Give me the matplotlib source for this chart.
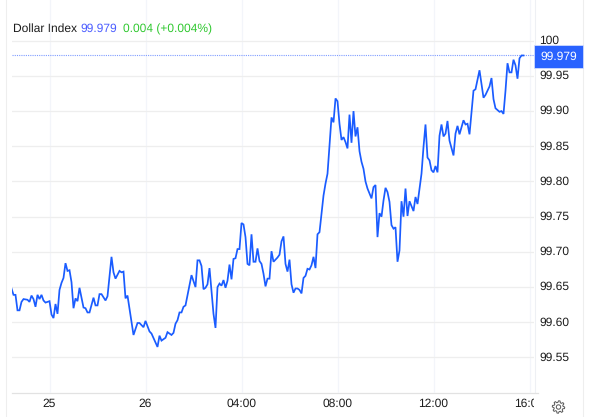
import matplotlib
matplotlib.use('Agg')
import matplotlib.pyplot as plt
import numpy as np
from matplotlib.patches import Polygon, Circle
from matplotlib.transforms import Bbox, ScaledTranslation

plt.rcParams['font.family'] = ['Liberation Sans', 'DejaVu Sans']
plt.rcParams['text.hinting'] = 'no_hinting'

# 5 minute bars, bar 0 sits on the "25" tick
bars = [-19, -18, -17, -16, -15, -14, -13, -11, -10, -9,
        -8, -7, -6, -5, -4, -3, -2, 0, 1, 2,
        3, 4, 5, 6, 7, 8, 9, 10, 11, 12,
        13, 14, 15, 16, 17, 18, 19, 20, 22, 23,
        24, 25, 26, 28, 29, 31, 32, 33, 35, 36,
        37, 38, 39, 42, 44, 45, 47, 48, 50, 51,
        54, 55, 56, 58, 59, 61, 62, 63, 64, 65,
        66, 67, 68, 71, 73, 74, 75, 76, 77, 78,
        79, 80, 81, 82, 83, 84, 85, 86, 87, 88,
        89, 90, 91, 92, 93, 94, 95, 96, 97, 98,
        99, 100, 101, 102, 103, 104, 105, 106, 107, 108,
        109, 110, 111, 112, 114, 115, 116, 117, 118, 119,
        120, 121, 122, 123, 124, 125, 126, 127, 128, 129,
        130, 131, 132, 133, 134, 135, 136, 137, 138, 139,
        140, 141, 142, 143, 144, 145, 146, 147, 148, 149,
        150, 151, 152, 153, 154, 155, 156, 157, 158, 159,
        161, 162, 163, 164, 165, 166, 167, 168, 169, 170,
        171, 172, 173, 174, 175, 176, 177, 178, 179, 180,
        182, 183, 184, 186, 187, 188, 189, 190, 191, 192,
        193, 194, 195, 196, 197, 198, 199, 200, 202, 203,
        204, 205, 207, 208, 209, 210, 212, 213, 215, 217,
        218, 220, 221, 222, 223, 225, 226, 227, 228, 229,
        230, 231, 232, 233, 234, 235, 236, 237]
index_values = [99.648, 99.639, 99.639, 99.617, 99.617, 99.629, 99.633, 99.632, 99.629, 99.638,
                99.633, 99.622, 99.639, 99.633, 99.639, 99.631, 99.628, 99.630, 99.611, 99.606,
                99.626, 99.612, 99.646, 99.656, 99.663, 99.684, 99.673, 99.674, 99.657, 99.620,
                99.634, 99.630, 99.649, 99.635, 99.621, 99.620, 99.614, 99.614, 99.635, 99.624,
                99.624, 99.640, 99.640, 99.631, 99.637, 99.693, 99.671, 99.662, 99.673, 99.671,
                99.672, 99.634, 99.638, 99.582, 99.599, 99.599, 99.593, 99.602, 99.587, 99.584,
                99.565, 99.581, 99.574, 99.578, 99.586, 99.582, 99.585, 99.598, 99.603, 99.614,
                99.614, 99.622, 99.624, 99.667, 99.650, 99.688, 99.688, 99.680, 99.647, 99.649,
                99.654, 99.677, 99.645, 99.612, 99.592, 99.650, 99.655, 99.652, 99.660, 99.649,
                99.659, 99.682, 99.661, 99.690, 99.691, 99.704, 99.704, 99.741, 99.739, 99.721,
                99.683, 99.681, 99.725, 99.686, 99.686, 99.705, 99.687, 99.683, 99.669, 99.651,
                99.662, 99.662, 99.701, 99.686, 99.692, 99.696, 99.715, 99.722, 99.683, 99.672,
                99.689, 99.654, 99.642, 99.648, 99.648, 99.646, 99.641, 99.663, 99.666, 99.676,
                99.675, 99.681, 99.693, 99.677, 99.725, 99.728, 99.754, 99.780, 99.797, 99.811,
                99.851, 99.891, 99.884, 99.918, 99.914, 99.882, 99.859, 99.863, 99.856, 99.847,
                99.895, 99.855, 99.900, 99.864, 99.877, 99.843, 99.828, 99.818, 99.800, 99.790,
                99.776, 99.792, 99.795, 99.721, 99.755, 99.750, 99.773, 99.791, 99.785, 99.771,
                99.738, 99.733, 99.735, 99.686, 99.702, 99.772, 99.750, 99.790, 99.751, 99.772,
                99.758, 99.778, 99.768, 99.811, 99.849, 99.881, 99.834, 99.830, 99.816, 99.813,
                99.822, 99.813, 99.865, 99.881, 99.864, 99.868, 99.886, 99.858, 99.837, 99.868,
                99.879, 99.867, 99.887, 99.881, 99.882, 99.867, 99.929, 99.931, 99.958, 99.919,
                99.923, 99.935, 99.947, 99.917, 99.904, 99.899, 99.900, 99.896, 99.929, 99.968,
                99.955, 99.955, 99.973, 99.965, 99.946, 99.975, 99.979, 99.979]

x_ticks = [0, 48, 96, 144, 192, 240]
x_labels = ['25', '26', '04:00', '08:00', '12:00', '16:00']
y_ticks = [99.55, 99.60, 99.65, 99.70, 99.75, 99.80, 99.85, 99.90, 99.95, 100]
y_labels = ['99.55', '99.60', '99.65', '99.70', '99.75', '99.80', '99.85', '99.90', '99.95', '100']
last_value = 99.979

LINE = '#1a5cff'
TEXT = '#1c1c1c'

fig = plt.figure(figsize=(6.0, 4.17), dpi=100)

# overlay in pixel coordinates for the frame lines around the chart
chrome = fig.add_axes([0, 0, 1, 1], zorder=0)
chrome.set_xlim(0, 600)
chrome.set_ylim(417, 0)
chrome.axis('off')
chrome.plot([5.5, 5.5], [0, 417], color='#eeeeee', lw=0.8)
chrome.plot([583, 583], [0, 417], color='#eeeeee', lw=0.8)
chrome.plot([534.5, 534.5], [0, 392.7], color='#eef0f4', lw=0.8)
chrome.plot([12, 538], [392.7, 392.7], color='#e2e2e2', lw=0.9)

ax = fig.add_axes([12 / 600, (417 - 392.7) / 417, 522 / 600, 392.7 / 417], zorder=1)
ax.patch.set_alpha(0)
ax.plot(bars, index_values, color=LINE, lw=1.25, solid_joinstyle='miter', zorder=3)
ax.axhline(last_value, color='#7f9cff', lw=0.8, ls=(0, (1, 1)), zorder=2)
ax.set_xlim(-18.75, 242.25)
ax.set_ylim(99.5, 100.0578)
for s in ax.spines.values():
    s.set_visible(False)

ax.set_xticks(x_ticks)
ax.set_xticklabels(x_labels, fontsize=8.64, color=TEXT)
ax.yaxis.tick_right()
ax.set_yticks(y_ticks)
ax.set_yticklabels(y_labels, fontsize=8.64, color=TEXT)
ax.tick_params(axis='both', length=0)
ax.tick_params(axis='x', pad=4)
ax.tick_params(axis='y', pad=3.9)
ax.grid(axis='y', color='#eeeeee', lw=0.9)
ax.grid(axis='x', color='#f3f5fa', lw=0.9)
ax.set_axisbelow(True)

# price labels sit a pixel higher than matplotlib centres them
up = ScaledTranslation(0, 0.8 / 72, fig.dpi_scale_trans)
for label in ax.get_yticklabels():
    label.set_transform(label.get_transform() + up)

# the last time label is cut by the price scale
last_label = ax.get_xticklabels()[-1]
last_label.set_clip_box(Bbox.from_extents(0, 0, 534, 417))
last_label.set_clip_on(True)

ax.annotate('99.979', xy=(1, last_value), xycoords=ax.get_yaxis_transform(),
            xytext=(4.4, -0.8), textcoords='offset points', va='center', ha='left',
            fontsize=8.64, color='white', annotation_clip=False,
            bbox=dict(boxstyle='square,pad=0.5', fc='#2962ff', ec='#dbe4ff', lw=0.5))

# legend row
chrome.text(13.2, 29, 'Dollar Index', fontsize=8.64, color=TEXT, va='center', ha='left')
chrome.text(80, 29, '99.979', fontsize=8.64, color='#4a5cff', va='center', ha='left')
chrome.text(122.7, 29, '0.004 (+0.004%)', fontsize=8.64, color='#2fc82f', va='center', ha='left')

# settings gear
angles = np.linspace(0, 2 * np.pi, 48, endpoint=False)
radii = np.where((np.arange(48) % 6) < 3, 6.2, 4.6)
gear = np.column_stack([558.5 + radii * np.cos(angles), 407 + radii * np.sin(angles)])
chrome.add_patch(Polygon(gear, closed=True, fc='none', ec='#555555', lw=0.7))
chrome.add_patch(Circle((558.5, 407), 2.2, fc='none', ec='#555555', lw=0.7))

fig.savefig('out.png', dpi=100)
